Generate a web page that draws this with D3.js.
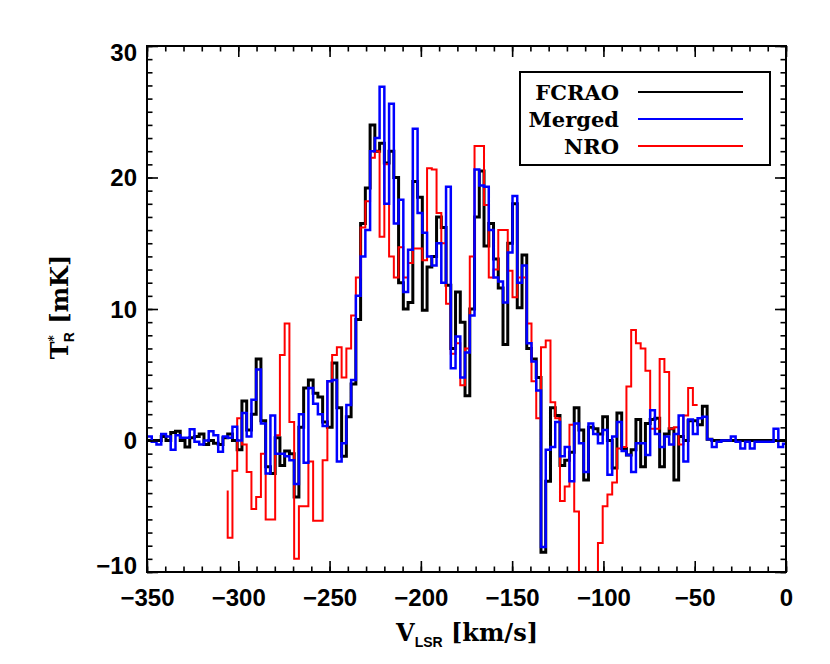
<!DOCTYPE html>
<html><head><meta charset="utf-8">
<script src="https://cdn.jsdelivr.net/npm/d3@7"></script>
<style>body{margin:0;background:#fff}</style>
</head><body><svg id="c" width="830" height="664"></svg>
<script>
// channel grid (km/s)
const channelStart = -350, channelWidth = 2.6;
// FCRAO spectrum (mK), one value per channel
const fcrao = [
 0,0,0,0.3,0,0.6,0.7,0,-0.5,0.2,
 0.3,0.5,-0.3,0,-0.2,-0.3,0.2,0.5,0,-0.7,
 3.0,0.8,2.0,6.2,1.5,-2.0,-2.5,0.2,-1.9,-0.8,
 -1.0,-4.3,1.0,4.0,4.6,3.6,3.3,1.4,1.0,5.9,
 2.5,-1.2,1.8,4.3,9.2,16.5,19.2,24.0,22.0,22.6,
 21.1,22.0,20.0,12.0,10.0,10.5,19.7,18.5,9.9,13.2,
 14.0,17.0,16.2,11.8,7.0,11.3,9.0,3.4,10.0,17.0,
 20.5,14.8,16.5,13.8,11.6,7.3,15.0,18.0,10.1,14.1,
 7.0,6.2,4.8,-8.5,-3.1,2.5,1.9,-1.9,-1.5,-0.9,
 2.5,0.8,-3.0,1.0,0.9,0.5,1.8,0.0,-2.1,2.1,
 -0.6,-1.1,-0.7,1.6,-2.0,1.3,1.6,1.7,-2.0,0.5,
 0.9,-3.0,0.3,0.0,1.5,1.5,1.2,2.6,0.1,0.0,
 0,0,0,0,0,0,0,0,0,0,0,0,0,0,0
];
// Merged spectrum (mK)
const merged = [
 0.3,-0.1,-0.3,0.5,0.3,-0.7,0.4,0.2,0.2,0.85,
 -0.1,-0.3,0.0,0.7,0.4,-0.85,0.3,0.2,1.05,0.0,
 2.1,0.3,3.1,5.4,1.3,-2.5,1.9,-1.0,-1.0,-1.2,
 -1.5,-3.3,2.0,-1.7,4.0,2.8,2.0,1.1,4.5,4.6,
 -1.6,-0.2,2.7,4.6,11.0,14.0,16.0,22.0,23.0,26.9,
 18.0,25.6,16.5,18.3,11.3,14.5,23.7,17.3,15.8,14.0,
 13.3,15.0,12.0,19.3,5.5,7.9,4.8,6.7,9.5,20.6,
 19.4,19.3,16.0,12.4,12.1,10.5,14.3,18.6,12.0,13.3,
 7.4,6.0,3.8,-8.1,-0.7,-0.5,1.4,-1.2,-0.5,-3.1,
 1.3,-0.2,-2.4,1.3,0.5,-0.2,0.8,-2.6,0.3,1.4,
 -0.8,-1.1,-2.4,-0.2,-0.2,-1.1,2.3,0.5,-0.5,0.3,
 -0.3,0.5,1.9,-1.6,1.6,0.5,1.7,1.8,0.1,-0.5,
 -0.1,0.0,0.0,0.3,-0.1,-0.6,-0.1,-0.6,-0.1,-0.1,-0.1,-0.1,0.9,-0.5,-0.25
];
// NRO spectrum (mK), starting at channel 17
const nroFirstChannel = 17;
const nroLeadIn = -3.8;
const nro = [
 -7.4,-2.3,1.7,-0.3,-2.4,-5.2,-4.3,-1.0,-6.0,-6.0,
 0.4,6.5,8.9,1.4,-9.0,-5.0,-5.0,-1.6,-6.1,-6.1,
 -1.5,4.5,6.5,7.1,4.8,7.0,9.5,12.4,16.2,18.2,
 21.5,22.0,15.5,21.0,14.0,12.4,14.7,12.4,13.5,14.6,
 14.6,13.7,20.7,20.6,17.3,15.0,10.4,6.6,7.4,4.2,
 7.0,14.0,22.4,22.4,17.9,12.4,13.0,16.0,16.0,12.9,
 10.9,12.4,12.4,8.9,4.5,1.7,7.1,7.6,2.9,1.7,
 -4.6,-3.5,1.2,-5.4,-13,-13,-13,-13,-7.8,-5.0,
 -4.1,-3.2,-0.6,-0.5,4.1,8.4,7.4,7.0,5.3,0.9,
 0.9,6.2,5.2,0.9,1.0,-0.3,1.9,4.0,2.7
];
const xTickValues = [-350,-300,-250,-200,-150,-100,-50,0];
const yTickValues = [-10,0,10,20,30];
const seriesNames = ["FCRAO","Merged","NRO"];
const seriesColors = ["#000000","#0000ff","#ff0000"];

const svg = d3.select("#c");
svg.append("rect").attr("width",830).attr("height",664).attr("fill","#fff");
const m = {l:147, r:786, t:46, b:572};
const x = d3.scaleLinear().domain([-350,0]).range([m.l,m.r]);
const y = d3.scaleLinear().domain([-10,30]).range([m.b,m.t]);

svg.append("clipPath").attr("id","clip").append("rect")
  .attr("x",m.l).attr("y",m.t).attr("width",m.r-m.l).attr("height",m.b-m.t);

function toPoints(vals, first, lead){
  const pts = vals.map((v,i)=>[channelStart+(first+i)*channelWidth, v]);
  pts.push([channelStart+(first+vals.length)*channelWidth, vals[vals.length-1]]);
  if (lead !== undefined) pts.unshift([channelStart+first*channelWidth, lead]);
  return pts;
}
const line = d3.line().x(d=>x(d[0])).y(d=>y(d[1])).curve(d3.curveStepAfter);
const plot = svg.append("g").attr("clip-path","url(#clip)");
const series = [
  {pts: toPoints(fcrao,0), color: seriesColors[0], w: 3.0},
  {pts: toPoints(nro,nroFirstChannel,nroLeadIn), color: seriesColors[2], w: 2.0},
  {pts: toPoints(merged,0), color: seriesColors[1], w: 2.5}
];
series.forEach(s=>{
  plot.append("path").attr("d",line(s.pts)).attr("fill","none")
    .attr("stroke",s.color).attr("stroke-width",s.w).attr("stroke-linejoin","miter");
});

// axes with inward ticks on all sides
const xMinor = d3.range(-350,0.1,10);
const yMinor = d3.range(-10,30.1,1);
const fmt = d => (d<0 ? "\u2212"+Math.abs(d) : String(d));
const tickFont = "'Liberation Sans', Arial, sans-serif";
function styleAxis(g){ g.select(".domain").remove(); g.selectAll("line").attr("stroke","#000").attr("stroke-width",1.6); }

svg.append("g").attr("transform",`translate(0,${m.b})`)
  .call(d3.axisBottom(x).tickValues(xMinor).tickSize(-5.5).tickFormat("")).call(styleAxis);
const xb = svg.append("g").attr("transform",`translate(0,${m.b})`)
  .call(d3.axisBottom(x).tickValues(xTickValues).tickSize(-11).tickPadding(17).tickFormat(fmt)).call(styleAxis);
xb.selectAll("text").attr("font-family",tickFont).attr("font-weight","bold").attr("font-size",24).attr("fill","#000");
svg.append("g").attr("transform",`translate(0,${m.t})`)
  .call(d3.axisTop(x).tickValues(xMinor).tickSize(-5.5).tickFormat("")).call(styleAxis);
svg.append("g").attr("transform",`translate(0,${m.t})`)
  .call(d3.axisTop(x).tickValues(xTickValues).tickSize(-11).tickFormat("")).call(styleAxis);

svg.append("g").attr("transform",`translate(${m.l},0)`)
  .call(d3.axisLeft(y).tickValues(yMinor).tickSize(-5.5).tickFormat("")).call(styleAxis);
const yl = svg.append("g").attr("transform",`translate(${m.l},0)`)
  .call(d3.axisLeft(y).tickValues(yTickValues).tickSize(-11).tickPadding(10).tickFormat(fmt)).call(styleAxis);
yl.selectAll("text").attr("font-family",tickFont).attr("font-weight","bold").attr("font-size",24).attr("fill","#000")
  .attr("dy", d => d===30 ? "0.62em" : d===-10 ? "0.05em" : "0.35em");
svg.append("g").attr("transform",`translate(${m.r},0)`)
  .call(d3.axisRight(y).tickValues(yMinor).tickSize(-5.5).tickFormat("")).call(styleAxis);
svg.append("g").attr("transform",`translate(${m.r},0)`)
  .call(d3.axisRight(y).tickValues(yTickValues).tickSize(-11).tickFormat("")).call(styleAxis);

svg.append("rect").attr("x",m.l).attr("y",m.t).attr("width",m.r-m.l).attr("height",m.b-m.t)
  .attr("fill","none").attr("stroke","#000").attr("stroke-width",2);

// axis titles
const serif = "'DejaVu Serif', 'Liberation Serif', serif";
const xt = svg.append("text").attr("x",467).attr("y",641).attr("text-anchor","middle")
  .attr("font-family",serif).attr("font-weight","bold").attr("font-size",24).attr("fill","#000");
xt.append("tspan").text("V");
xt.append("tspan").attr("font-family",tickFont).attr("font-size",14).attr("dy",6).text("LSR");
xt.append("tspan").attr("dy",-6).text(" [km/s]");

const yt = svg.append("text").attr("transform","translate(68,307) rotate(-90)").attr("text-anchor","middle")
  .attr("font-family",serif).attr("font-weight","bold").attr("font-size",24).attr("fill","#000");
yt.append("tspan").text("T");
yt.append("tspan").attr("font-size",12).attr("dy",-10).text("*");
yt.append("tspan").attr("font-family",tickFont).attr("font-size",14).attr("dy",16).attr("dx",-7).text("R");
yt.append("tspan").attr("dy",-6).text(" [mK]");

// legend
const lg = svg.append("g");
lg.append("rect").attr("x",520).attr("y",72).attr("width",250).attr("height",93)
  .attr("fill","#fff").attr("stroke","#000").attr("stroke-width",2);
const lw = [2.2,2.2,1.8];
seriesNames.forEach((n,i)=>{
  const yy = 92 + i*27;
  lg.append("text").attr("x",619).attr("y",yy+8).attr("text-anchor","end")
    .attr("font-family",serif).attr("font-weight","bold").attr("font-size",21).attr("fill","#000").text(n);
  lg.append("line").attr("x1",638).attr("x2",743).attr("y1",yy).attr("y2",yy)
    .attr("stroke",seriesColors[i]).attr("stroke-width",lw[i]);
});
</script></body></html>
